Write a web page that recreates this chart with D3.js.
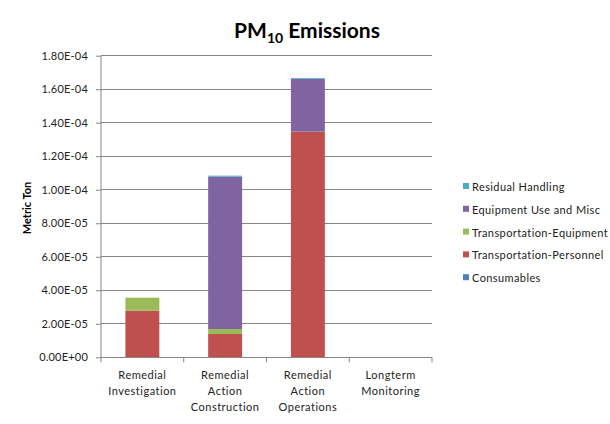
<!DOCTYPE html>
<html><head><meta charset="utf-8">
<script src="https://cdn.jsdelivr.net/npm/d3@7"></script>
<style>body{margin:0;background:#fff}svg{display:block}text{font-family:Lato,"Open Sans",sans-serif}</style>
</head><body><svg id="c" width="610" height="424"></svg>
<script>
const categories = [["Remedial","Investigation"],["Remedial","Action","Construction"],["Remedial","Action","Operations"],["Longterm","Monitoring"]];
const seriesNames = ["Consumables","Transportation-Personnel","Transportation-Equipment","Equipment Use and Misc","Residual Handling"];
const consumables = [0, 0, 0, 0];
const transPersonnel = [2.78e-5, 1.39e-5, 13.47e-5, 0];
const transEquipment = [0.78e-5, 0.30e-5, 0, 0];
const equipmentUse = [0, 9.09e-5, 3.14e-5, 0];
const residualHandling = [0, 0.06e-5, 0.05e-5, 0];
const colors = ["#4F81BD","#C0504D","#9BBB59","#8064A2","#4BACC6"];
const yTicks = [0,2e-5,4e-5,6e-5,8e-5,1e-4,1.2e-4,1.4e-4,1.6e-4,1.8e-4];

const seriesValues = [consumables, transPersonnel, transEquipment, equipmentUse, residualHandling];
const table = categories.map((c,i)=>{const o={key:i}; seriesNames.forEach((s,j)=>o[s]=seriesValues[j][i]); return o;});
const stack = d3.stack().keys(seriesNames)(table);

const svg = d3.select("#c");
const L=101, R=432, T=55.7, B=357.3;
const x = d3.scaleBand().domain(d3.range(categories.length)).range([L,R]).paddingInner(0).paddingOuter(0);
const y = d3.scaleLinear().domain([0,1.8e-4]).range([B,T]);

// gridlines
svg.append("g").selectAll("line").data(yTicks.slice(1)).join("line")
  .attr("x1",L).attr("x2",R).attr("y1",d=>y(d)).attr("y2",d=>y(d))
  .attr("stroke","#868686").attr("stroke-width",1).attr("shape-rendering","crispEdges");

// bars
const bw = x.bandwidth()*0.41;
svg.append("g").selectAll("g").data(stack).join("g").attr("fill",(d,i)=>colors[i])
  .selectAll("rect").data(d=>d).join("rect")
  .attr("x",(d,i)=>x(i)+(x.bandwidth()-bw)/2).attr("width",bw)
  .attr("y",d=>y(d[1])).attr("height",d=>Math.max(0,y(d[0])-y(d[1])));

// y axis
const yAxis = d3.axisLeft(y).tickValues(yTicks).tickSize(5).tickPadding(8)
  .tickFormat(d=>{ if(d===0) return "0.00E+00"; const s=d.toExponential(2).toUpperCase(); return s.replace(/E([+-])(\d)$/,"E$10$2");});
const ya = svg.append("g").attr("transform",`translate(${L},0)`).call(yAxis);
ya.select(".domain").attr("stroke","#868686").attr("d",`M0,${B}V${T}`);
ya.selectAll(".tick line").attr("stroke","#868686");
ya.selectAll(".tick text").attr("font-size",11).attr("fill","#222").attr("font-family","Lato,sans-serif").attr("letter-spacing","0.2");

// x axis
svg.append("line").attr("x1",L).attr("x2",R).attr("y1",B).attr("y2",B).attr("stroke","#868686").attr("shape-rendering","crispEdges");
svg.append("g").selectAll("line").data(d3.range(categories.length+1)).join("line")
  .attr("x1",d=>L+d*x.bandwidth()).attr("x2",d=>L+d*x.bandwidth()).attr("y1",B).attr("y2",B+5).attr("stroke","#868686");
const xl = svg.append("g").selectAll("text").data(categories).join("text")
  .attr("x",(d,i)=>x(i)+x.bandwidth()/2).attr("y",379).attr("text-anchor","middle")
  .attr("font-size",11).attr("fill","#222");
xl.selectAll("tspan").data(d=>d).join("tspan").attr("x",function(){return this.parentNode.getAttribute("x");})
  .attr("dy",(d,i)=>i===0?0:16).attr("letter-spacing","0.5").text(d=>d);

// title
const title = svg.append("text").attr("x",307).attr("y",38).attr("text-anchor","middle")
  .attr("font-size",21).attr("font-weight","bold").attr("fill","#000");
title.append("tspan").text("PM");
title.append("tspan").attr("font-size",14).attr("dy",5).text("10");
title.append("tspan").attr("dy",-5).text(" Emissions");

// y title
svg.append("text").attr("transform","translate(31,208) rotate(-90)").attr("text-anchor","middle")
  .attr("font-size",11).attr("font-weight","bold").attr("fill","#000").text("Metric Ton");

// legend
const legOrder = [4,3,2,1,0];
const lg = svg.append("g").selectAll("g").data(legOrder).join("g")
  .attr("transform",(d,i)=>`translate(463,${187+i*22.8})`);
lg.append("rect").attr("x",0).attr("y",-4).attr("width",6).attr("height",6).attr("fill",d=>colors[d]);
lg.append("text").attr("x",9).attr("y",4).attr("font-size",11).attr("letter-spacing","0.4").attr("fill","#222").text(d=>seriesNames[d]);
</script></body></html>
